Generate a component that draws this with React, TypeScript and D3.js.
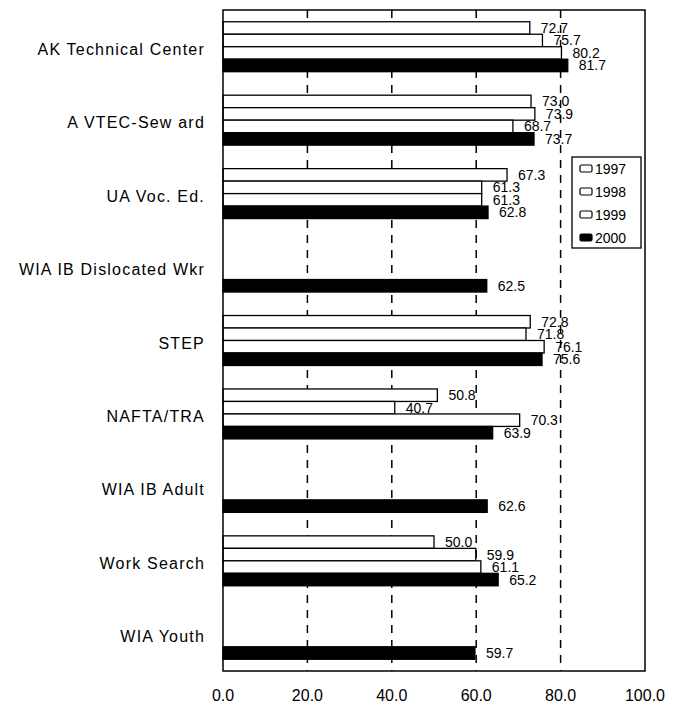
import React from "react";
import * as d3 from "d3";

const categories = [
  "AK Technical Center",
  "A VTEC-Sew ard",
  "UA Voc. Ed.",
  "WIA IB Dislocated Wkr",
  "STEP",
  "NAFTA/TRA",
  "WIA IB Adult",
  "Work Search",
  "WIA Youth",
];
const years = ["1997", "1998", "1999", "2000"];
const v1997 = [72.7, 73.0, 67.3, null, 72.8, 50.8, null, 50.0, null];
const v1998 = [75.7, 73.9, 61.3, null, 71.8, 40.7, null, 59.9, null];
const v1999 = [80.2, 68.7, 61.3, null, 76.1, 70.3, null, 61.1, null];
const v2000 = [81.7, 73.7, 62.8, 62.5, 75.6, 63.9, 62.6, 65.2, 59.7];
const xTicks = [0, 20, 40, 60, 80, 100];
const gridTicks = [20, 40, 60, 80];

const series = [v1997, v1998, v1999, v2000];
const fills = ["#ffffff", "#ffffff", "#ffffff", "#000000"];

export default function App() {
  const W = 675, H = 705;
  const left = 223, right = 645, top = 10, bottom = 671;
  const font = "'Liberation Sans', Arial, Helvetica, sans-serif";

  const x = d3.scaleLinear().domain([0, 100]).range([left, right]);
  const y = d3.scaleBand<string>().domain(categories).range([top, bottom]).paddingInner(0.32).paddingOuter(0.16);
  const yy = d3.scaleBand<string>().domain(years).range([0, y.bandwidth()]).padding(0);

  return (
    <svg width={W} height={H} style={{ position: "absolute", left: 0, top: 0, background: "#fff" }}>
      <rect x={0} y={0} width={W} height={H} fill="#fff" />
      {gridTicks.map((t) => (
        <line key={t} x1={x(t)} x2={x(t)} y1={top} y2={bottom} stroke="#000" strokeWidth={1.5} strokeDasharray="8,7" />
      ))}
      {categories.map((c, i) => (
        <g key={c}>
          {series.map((s, j) => {
            const v = s[i];
            if (v == null) return null;
            const by = (y(c) as number) + (yy(years[j]) as number);
            const bh = yy.bandwidth();
            return (
              <g key={j}>
                <rect x={x(0)} y={by} width={x(v) - x(0)} height={bh} fill={fills[j]} stroke="#000" strokeWidth={1.3} />
                <text x={x(v) + 11} y={by + bh / 2 + 5} fontSize={14} fontFamily={font} fill="#000">
                  {v.toFixed(1)}
                </text>
              </g>
            );
          })}
          <text
            x={205}
            y={(y(c) as number) + y.bandwidth() / 2 + 8}
            textAnchor="end"
            fontSize={16}
            letterSpacing={1.2}
            fontFamily={font}
            fill="#000"
          >
            {c}
          </text>
        </g>
      ))}
      <rect x={left} y={top} width={right - left} height={bottom - top} fill="none" stroke="#000" strokeWidth={1.5} />
      {xTicks.map((t) => (
        <text key={t} x={x(t)} y={701} textAnchor="middle" fontSize={16} fontFamily={font} fill="#000">
          {t.toFixed(1)}
        </text>
      ))}
      <g>
        <rect x={572} y={157} width={69} height={91} fill="#fff" stroke="#000" strokeWidth={1.3} />
        {years.map((yr, j) => (
          <g key={yr}>
            <rect x={580} y={165 + j * 23} width={12} height={7} rx={1.5} fill={fills[j]} stroke="#000" strokeWidth={1.2} />
            <text x={595} y={174 + j * 23} fontSize={14} fontFamily={font} fill="#000">
              {yr}
            </text>
          </g>
        ))}
      </g>
    </svg>
  );
}
